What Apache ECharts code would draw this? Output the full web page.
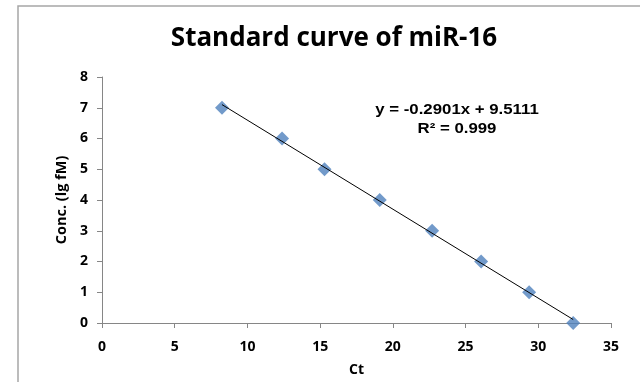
<!DOCTYPE html>
<html><head><meta charset="utf-8">
<script src="https://cdn.jsdelivr.net/npm/echarts@6/dist/echarts.min.js"></script>
<style>html,body{margin:0;padding:0;background:#fff}#c{width:640px;height:382px}</style>
</head><body><div id="c"></div>
<script>
var titleText = 'Standard curve of miR-16';
var xName = 'Ct';
var yName = 'Conc. (lg fM)';
var ctValues = [8.25, 12.38, 15.3, 19.1, 22.7, 26.07, 29.37, 32.4];
var concValues = [7, 6, 5, 4, 3, 2, 1, 0];
var equationText = 'y = -0.2901x + 9.5111';
var r2Text = 'R² = 0.999';

// least-squares fit of the data (trendline)
var n = ctValues.length, sx = 0, sy = 0, sxx = 0, sxy = 0;
for (var i = 0; i < n; i++) { sx += ctValues[i]; sy += concValues[i]; sxx += ctValues[i]*ctValues[i]; sxy += ctValues[i]*concValues[i]; }
var slope = (n*sxy - sx*sy) / (n*sxx - sx*sx);
var icpt = (sy - slope*sx) / n;
var xMin = Math.min.apply(null, ctValues), xMax = Math.max.apply(null, ctValues);
var trend = [[xMin, slope*xMin + icpt], [xMax, slope*xMax + icpt]];

var chart = echarts.init(document.getElementById('c'), null, {renderer: 'canvas'});
var font = '"Open Sans"';
var eqFont = 'bold 14px "Liberation Sans", Arial';
chart.setOption({
  animation: false,
  backgroundColor: '#fff',
  title: {text: titleText, left: 329, top: 21, textAlign: 'center',
    textStyle: {fontFamily: font, fontWeight: 'bold', fontSize: 26, color: '#000'}},
  grid: {left: 102, right: 29, top: 77, bottom: 56},
  xAxis: {type: 'value', min: 0, max: 35, interval: 5,
    name: xName, nameLocation: 'middle', nameGap: 40,
    nameTextStyle: {fontFamily: font, fontWeight: 'bold', fontSize: 14, color: '#000'},
    axisLine: {lineStyle: {color: '#868686', width: 1}},
    axisTick: {show: true, length: 5, lineStyle: {color: '#868686'}},
    splitLine: {show: false},
    axisLabel: {margin: 17, fontFamily: font, fontWeight: 'bold', fontSize: 14, color: '#000'}},
  yAxis: {type: 'value', min: 0, max: 8, interval: 1,
    name: yName, nameLocation: 'middle', nameGap: 32, nameRotate: 90,
    nameTextStyle: {fontFamily: font, fontWeight: 'bold', fontSize: 14.5, color: '#000'},
    axisLine: {show: true, lineStyle: {color: '#868686', width: 1}},
    axisTick: {show: true, length: 5, lineStyle: {color: '#868686'}},
    splitLine: {show: false},
    axisLabel: {margin: 14, fontFamily: font, fontWeight: 'bold', fontSize: 14, color: '#000'}},
  graphic: [
    {type: 'rect', shape: {x: 18, y: 6, width: 700, height: 500}, silent: true, z: -10,
      style: {fill: 'none', stroke: '#a6a6a6', lineWidth: 1.5}},
    {type: 'text', x: 457, y: 110, scaleX: 1.2, z: 10,
      style: {text: equationText, font: eqFont, fill: '#000', align: 'center', verticalAlign: 'middle'}},
    {type: 'text', x: 457, y: 129, scaleX: 1.2, z: 10,
      style: {text: r2Text, font: eqFont, fill: '#000', align: 'center', verticalAlign: 'middle'}}
  ],
  series: [
    {type: 'scatter', data: ctValues.map(function (x, i) { return [x, concValues[i]]; }),
      symbol: 'diamond', symbolSize: 14, itemStyle: {color: '#4F81BD'}, z: 2},
    {type: 'line', data: trend, symbol: 'none', lineStyle: {color: '#000', width: 1}, z: 3}
  ]
});
</script></body></html>
